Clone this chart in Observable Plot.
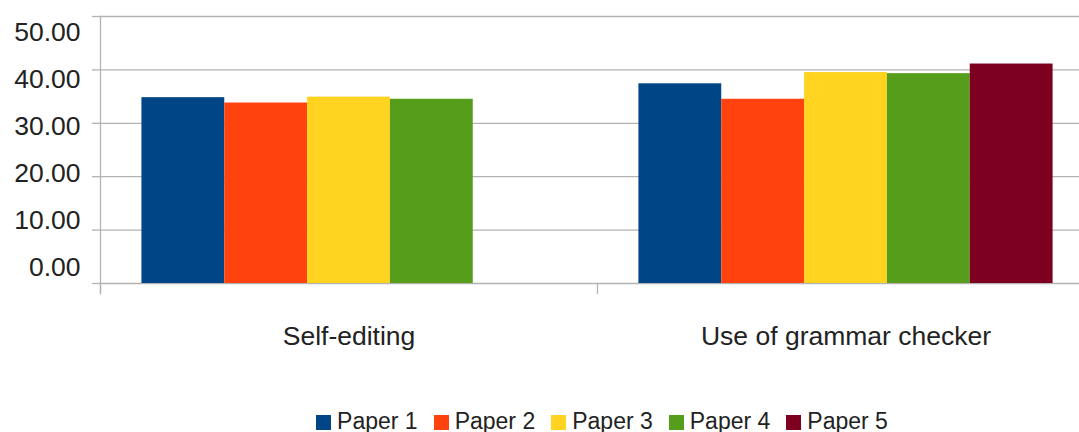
<!DOCTYPE html>
<html>
<head>
<meta charset="utf-8">
<script src="https://cdn.jsdelivr.net/npm/d3@7"></script>
<script src="https://cdn.jsdelivr.net/npm/@observablehq/plot@0.6"></script>
<style>
  html, body { margin: 0; padding: 0; background: #fff; overflow: hidden; width: 1079px; height: 432px; }
  #chart svg { overflow: hidden; display: block; }
  #legend { margin-left: 105px; width: 994px; height: 24px; padding-top: 14px; display: flex; justify-content: center; align-items: center;
    font-family: "Liberation Sans", Arial, sans-serif; font-size: 23px; color: #222; }
  .item { display: flex; align-items: center; margin: 0 8px; }
  .sw { width: 15px; height: 15px; margin-right: 6px; margin-top: 2px; }
</style>
</head>
<body>
<div id="chart"></div>
<div id="legend"></div>
<script>
const categories = ["Self-editing", "Use of grammar checker"];
const papers = ["Paper 1", "Paper 2", "Paper 3", "Paper 4", "Paper 5"];
const colors = ["#004586", "#ff420e", "#ffd320", "#579d1c", "#7e0021"];
const selfEditing = [34.8, 33.8, 34.9, 34.5];
const grammarChecker = [37.4, 34.5, 39.5, 39.3, 41.1];
const yTicks = [0, 10, 20, 30, 40, 50];

const data = [];
selfEditing.forEach((v, i) => data.push({category: categories[0], paper: papers[i], value: v}));
grammarChecker.forEach((v, i) => data.push({category: categories[1], paper: papers[i], value: v}));

const grid = "#b3b3b3";
const font = "'Liberation Sans', Arial, sans-serif";

const chart = Plot.plot({
  width: 1079,
  height: 395,
  marginLeft: 100,
  marginRight: -15,
  marginTop: 16,
  marginBottom: 112,
  style: {fontFamily: font, color: "#222", background: "#fff"},
  fx: {domain: categories, padding: 0, round: false, label: null},
  x: {domain: papers, paddingInner: 0, paddingOuter: 0.5, round: false, axis: null},
  y: {domain: [0, 50], axis: null, label: null},
  color: {domain: papers, range: colors},
  marks: [
    Plot.ruleY(yTicks, {stroke: grid, strokeWidth: 1.3}),
    Plot.axisY(yTicks, {anchor: "left", label: null, tickSize: 8, tickFormat: () => "", stroke: grid, strokeWidth: 1.3, facetAnchor: "left"}),
    Plot.frame({anchor: "left", stroke: grid, strokeWidth: 1.3, insetBottom: -10, facetAnchor: "left"}),
    Plot.frame({anchor: "left", stroke: grid, strokeWidth: 1.3, insetTop: 267, insetBottom: -10}),
    Plot.barY(data, {fx: "category", x: "paper", y: "value", fill: "paper"}),
    Plot.text(yTicks, {
      fx: () => categories[0],
      y: d => 3 + d * 0.88,
      text: d3.format(".2f"),
      frameAnchor: "left",
      textAnchor: "end",
      dx: -20,
      fontSize: 26.5,
      fill: "#222"
    }),
    Plot.axisFx({anchor: "bottom", tickSize: 0, tickPadding: 43, fontSize: 26.5, label: null, fill: "#222"})
  ]
});
document.getElementById("chart").appendChild(chart);

const legend = document.getElementById("legend");
papers.forEach((p, i) => {
  const item = document.createElement("div");
  item.className = "item";
  const sw = document.createElement("div");
  sw.className = "sw";
  sw.style.background = colors[i];
  const t = document.createElement("span");
  t.textContent = p;
  item.appendChild(sw);
  item.appendChild(t);
  legend.appendChild(item);
});
</script>
</body>
</html>
